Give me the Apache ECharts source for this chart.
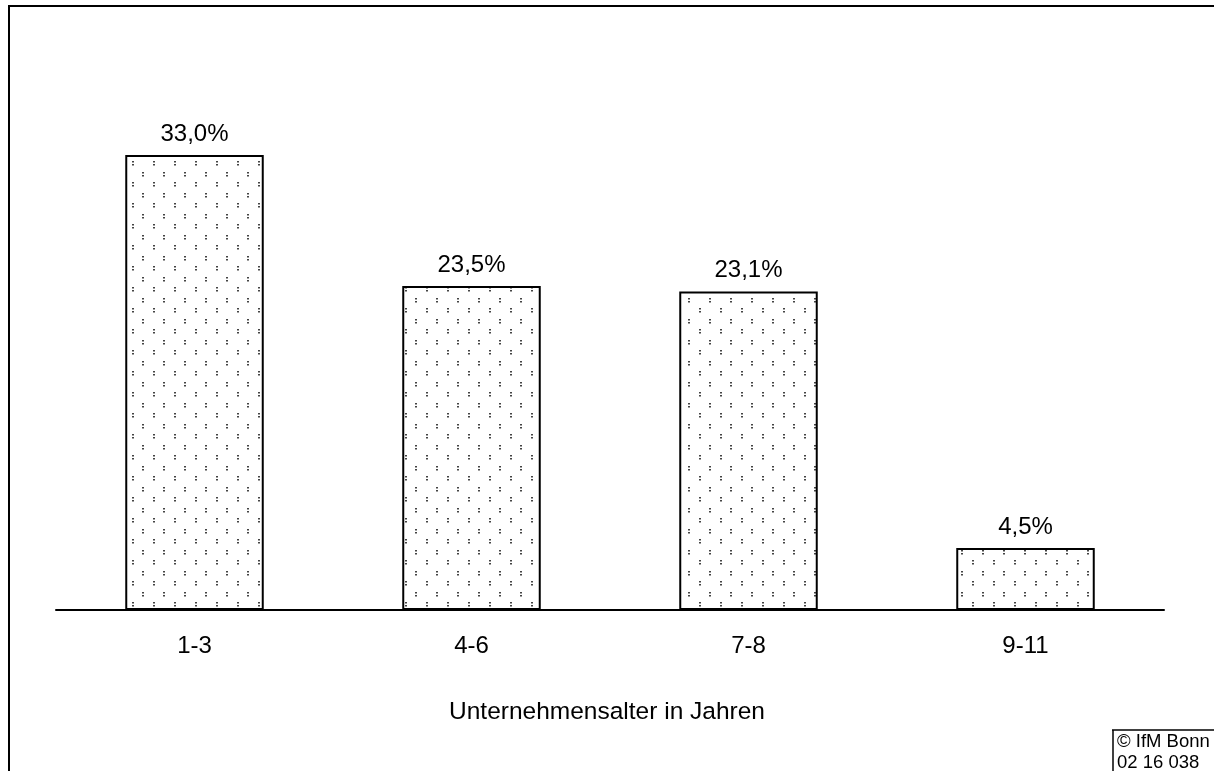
<!DOCTYPE html>
<html>
<head>
<meta charset="utf-8">
<script src="https://cdn.jsdelivr.net/npm/echarts@6/dist/echarts.min.js"></script>
<style>
  html, body { margin: 0; padding: 0; background: #fff; }
  #chart { width: 1214px; height: 771px; }
</style>
</head>
<body>
<div id="chart"></div>
<script>
// Share of companies by company age (years)
var categories = ['1-3', '4-6', '7-8', '9-11'];
var shares = [33.0, 23.5, 23.1, 4.5];
var axisTitle = 'Unternehmensalter in Jahren';
var creditLines = ['\u00a9 IfM Bonn', '02 16 038'];

// Dotted fill: pairs of small dots on a staggered grid
function dotPattern() {
  var s = 21;
  var c = document.createElement('canvas');
  c.width = s; c.height = s;
  var g = c.getContext('2d');
  g.fillStyle = '#ffffff';
  g.fillRect(0, 0, s, s);
  g.fillStyle = '#444444';
  [[6, 14], [16, 4]].forEach(function (p) {
    g.fillRect(p[0], p[1], 2, 1.5);
    g.fillRect(p[0], p[1] + 3, 2, 1.5);
  });
  return c;
}

function fmt(v) { return v.toFixed(1).replace('.', ',') + '%'; }

var font = '"Liberation Sans", Arial, sans-serif';
var chart = echarts.init(document.getElementById('chart'), null, { renderer: 'canvas' });

chart.setOption({
  backgroundColor: '#ffffff',
  animation: false,
  grid: { left: 56, right: 50, top: 58.4, bottom: 161 },
  xAxis: {
    type: 'category',
    data: categories,
    axisLine: { lineStyle: { color: '#000', width: 2 } },
    axisTick: { show: false },
    axisLabel: { color: '#000', fontSize: 24, fontFamily: font, margin: 24 }
  },
  yAxis: {
    type: 'value', min: 0, max: 40,
    show: false
  },
  series: [{
    type: 'bar',
    data: shares,
    barWidth: '50%',
    itemStyle: {
      color: { image: dotPattern(), repeat: 'repeat' },
      borderColor: '#000',
      borderWidth: 2
    },
    label: {
      show: true, position: 'top', distance: 9,
      color: '#000', fontSize: 24, fontFamily: font,
      formatter: function (p) { return fmt(p.value); }
    }
  }],
  graphic: [
    { type: 'line', shape: { x1: 9, y1: 6, x2: 9, y2: 771 }, style: { stroke: '#000', lineWidth: 2 } },
    { type: 'line', shape: { x1: 8, y1: 6, x2: 1214, y2: 6 }, style: { stroke: '#000', lineWidth: 2 } },
    { type: 'text', left: 'center', top: 700, style: { text: axisTitle, fill: '#000', fontSize: 24.5, fontFamily: font } },
    { type: 'line', shape: { x1: 1113, y1: 730, x2: 1113, y2: 771 }, style: { stroke: '#000', lineWidth: 1.5 } },
    { type: 'line', shape: { x1: 1112, y1: 730, x2: 1214, y2: 730 }, style: { stroke: '#000', lineWidth: 1.5 } },
    { type: 'text', left: 1117, top: 732, style: { text: creditLines.join('\n'), fill: '#000', fontSize: 18.5, fontFamily: font, lineHeight: 20.5 } }
  ]
});
</script>
</body>
</html>
